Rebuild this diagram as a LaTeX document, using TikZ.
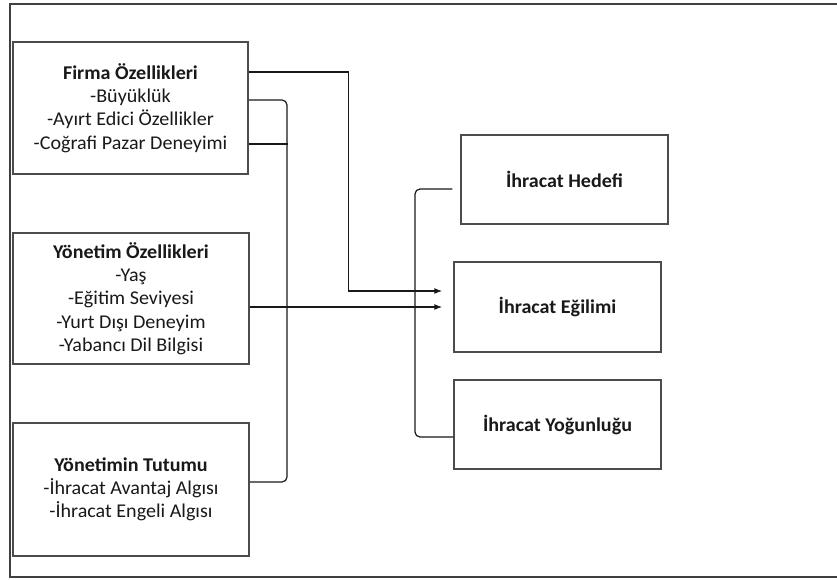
\documentclass[tikz,border=0pt]{standalone}
\usepackage{fontspec}
\setmainfont{Carlito}[FakeStretch=1.03]
\usetikzlibrary{arrows.meta}
\begin{document}
\begin{tikzpicture}[x=1pt,y=-1pt,
  box/.style={draw=black!70, line width=1.5pt, fill=white, align=center,
    inner sep=0pt, font=\fontsize{19.5}{23.3}\selectfont, text=black!90},
  link/.style={draw=black!90, line width=1.2pt},
  arr/.style={link, -{Latex[length=8pt,width=6pt]}, shorten >=11pt},
  bracketline/.style={link, rounded corners=5pt}]
\useasboundingbox (0,0) rectangle (837,580);
% outer frame
\draw[black!75, line width=1.7pt] (837,4) -- (10,4) -- (10,577) -- (837,577);

% factor boxes on the left
\node[box, minimum width=235pt, minimum height=132pt] (firma) at (130.5,108)
  {\textbf{Firma Özellikleri}\\-Büyüklük\\-Ayırt Edici Özellikler\\-Coğrafi Pazar Deneyimi};
\node[box, minimum width=236pt, minimum height=131pt] (yon) at (131,298.5)
  {\textbf{Yönetim Özellikleri}\\-Yaş\\-Eğitim Seviyesi\\-Yurt Dışı Deneyim\\-Yabancı Dil Bilgisi};
\node[box, minimum width=236pt, minimum height=133pt] (tut) at (131,489.5)
  {\textbf{Yönetimin Tutumu}\\-İhracat Avantaj Algısı\\-İhracat Engeli Algısı};

% outcome boxes on the right
\node[box, minimum width=207pt, minimum height=89pt] (hed) at (564.5,179.5)
  {\textbf{İhracat Hedefi}};
\node[box, minimum width=207pt, minimum height=90pt] (egi) at (557.5,307)
  {\textbf{İhracat Eğilimi}};
\node[box, minimum width=207pt, minimum height=89pt] (yog) at (557.5,424.5)
  {\textbf{İhracat Yoğunluğu}};

% junction points
\coordinate (lb) at (287,482);
\coordinate (rb) at (415,437);

% arrows into the export tendency box
\draw[arr] ([yshift=36pt]firma.east) -- ++(100pt,0) |- ([yshift=16pt]egi.west);
\draw[arr] ([yshift=-8.5pt]yon.east) -- (egi.west);

% bracket joining firm features and management attitude
\draw[bracketline] ([yshift=8pt]firma.east) -| (lb) -- ([yshift=7.5pt]tut.east);
\draw[link] ([yshift=-36pt]firma.east) -- ++(39pt,0);

% bracket joining export goal and export intensity
\draw[bracketline] ([xshift=-8pt,yshift=-9.5pt]hed.west) -| (rb) -- ([yshift=-12.5pt]yog.west);
\end{tikzpicture}
\end{document}
